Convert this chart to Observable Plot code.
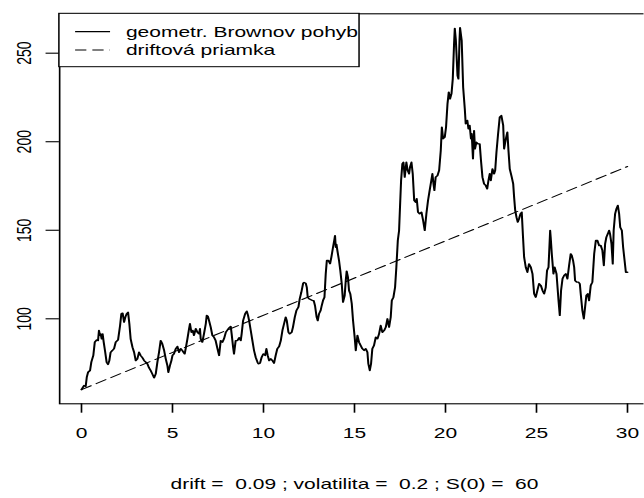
<!DOCTYPE html>
<html>
<head>
<meta charset="utf-8">
<script src="https://cdn.jsdelivr.net/npm/d3@7"></script>
<script src="https://cdn.jsdelivr.net/npm/@observablehq/plot@0.6"></script>
<style>
  html, body { margin: 0; padding: 0; background: #fff; overflow: hidden; }
  #chart { width: 644px; height: 498px; overflow: hidden; }
  /* the device is drawn wider than tall: stretch the whole plot horizontally */
  #chart svg { transform: scaleX(1.5); transform-origin: 0 0; display: block; }
</style>
</head>
<body>
<div id="chart"></div>
<script>
// simulation parameters shown in the caption
const s0 = 60;
const drift = 0.09;
const volatility = 0.2;

// simulated path of the geometric Brownian motion
const time = [
  0.00, 0.14, 0.23, 0.29, 0.36, 0.47, 0.54, 0.65, 0.73, 0.84, 0.91, 0.96, 1.02, 1.05, 1.11, 1.16, 1.22, 1.29, 1.38, 1.46,
  1.53, 1.60, 1.70, 1.79, 1.88, 2.01, 2.12, 2.19, 2.26, 2.34, 2.41, 2.48, 2.56, 2.63, 2.70, 2.80, 2.89, 2.98, 3.07, 3.16,
  3.25, 3.35, 3.44, 3.53, 3.62, 3.71, 3.80, 3.89, 3.99, 4.08, 4.17, 4.26, 4.35, 4.44, 4.54, 4.63, 4.72, 4.77, 4.86, 4.94,
  5.00, 5.08, 5.18, 5.27, 5.36, 5.45, 5.54, 5.60, 5.67, 5.74, 5.82, 5.91, 5.96, 6.04, 6.11, 6.18, 6.28, 6.37, 6.46, 6.51,
  6.55, 6.64, 6.73, 6.83, 6.88, 6.95, 7.03, 7.10, 7.19, 7.28, 7.37, 7.47, 7.56, 7.65, 7.74, 7.83, 7.93, 8.11, 8.20, 8.25,
  8.33, 8.38, 8.47, 8.57, 8.66, 8.75, 8.80, 8.88, 8.99, 9.08, 9.15, 9.21, 9.30, 9.39, 9.48, 9.57, 9.67, 9.72, 9.81, 9.90,
  9.99, 10.09, 10.16, 10.23, 10.31, 10.40, 10.49, 10.58, 10.67, 10.76, 10.86, 10.95, 11.04, 11.13, 11.22, 11.28, 11.37, 11.44, 11.55, 11.62,
  11.72, 11.81, 11.92, 11.99, 12.08, 12.18, 12.23, 12.32, 12.38, 12.43, 12.50, 12.69, 12.76, 12.83, 12.92, 12.98, 13.05, 13.14, 13.20, 13.27,
  13.35, 13.42, 13.48, 13.57, 13.66, 13.73, 13.82, 13.90, 13.93, 13.97, 14.01, 14.06, 14.15, 14.22, 14.30, 14.37, 14.46, 14.52, 14.57, 14.64,
  14.70, 14.77, 14.85, 14.92, 15.01, 15.07, 15.16, 15.25, 15.34, 15.43, 15.53, 15.62, 15.71, 15.76, 15.84, 15.91, 15.98, 16.07, 16.17, 16.26,
  16.35, 16.44, 16.53, 16.63, 16.72, 16.81, 16.90, 16.99, 17.05, 17.14, 17.23, 17.30, 17.38, 17.45, 17.50, 17.56, 17.63, 17.69, 17.76, 17.85,
  17.92, 18.00, 18.05, 18.13, 18.20, 18.28, 18.36, 18.42, 18.49, 18.58, 18.68, 18.77, 18.86, 18.95, 19.04, 19.13, 19.22, 19.28, 19.34, 19.39,
  19.46, 19.56, 19.65, 19.74, 19.80, 19.87, 19.96, 20.03, 20.11, 20.18, 20.25, 20.33, 20.40, 20.47, 20.51, 20.57, 20.66, 20.71, 20.77, 20.80,
  20.89, 20.97, 21.06, 21.11, 21.20, 21.26, 21.33, 21.40, 21.44, 21.51, 21.57, 21.62, 21.70, 21.79, 21.88, 21.95, 22.03, 22.12, 22.21, 22.29,
  22.36, 22.43, 22.49, 22.58, 22.67, 22.73, 22.80, 22.89, 22.98, 23.07, 23.17, 23.22, 23.31, 23.40, 23.46, 23.53, 23.64, 23.72, 23.77, 23.83,
  23.90, 23.97, 24.04, 24.12, 24.19, 24.26, 24.32, 24.41, 24.50, 24.59, 24.69, 24.78, 24.87, 24.96, 25.05, 25.14, 25.24, 25.33, 25.42, 25.51,
  25.58, 25.66, 25.75, 25.78, 25.84, 25.93, 26.00, 26.10, 26.21, 26.28, 26.35, 26.43, 26.52, 26.61, 26.70, 26.79, 26.88, 26.94, 27.01, 27.07,
  27.12, 27.21, 27.30, 27.38, 27.43, 27.52, 27.60, 27.67, 27.74, 27.82, 27.89, 27.98, 28.07, 28.17, 28.26, 28.35, 28.44, 28.53, 28.62, 28.70,
  28.77, 28.84, 28.92, 28.99, 29.04, 29.12, 29.19, 29.24, 29.32, 29.39, 29.47, 29.54, 29.60, 29.69, 29.76, 29.84, 29.91, 30.00
];
const price = [
  60.0, 62.3, 61.8, 67.0, 69.8, 70.8, 75.5, 79.3, 86.8, 88.1, 87.7, 93.4, 90.6, 91.5, 88.7, 91.5, 86.8, 82.1, 75.5, 74.2,
  76.4, 81.1, 82.1, 83.1, 86.8, 88.1, 96.2, 102.8, 103.2, 98.1, 100.9, 102.8, 103.7, 97.2, 88.7, 84.0, 81.1, 76.4, 77.4, 81.1,
  79.3, 78.0, 76.4, 75.5, 74.6, 72.3, 70.8, 68.9, 66.7, 68.9, 75.5, 81.1, 87.7, 85.9, 82.1, 77.4, 73.6, 69.8, 73.6, 76.4,
  79.3, 80.2, 83.1, 84.4, 81.1, 83.1, 82.1, 81.1, 80.2, 84.0, 88.7, 94.4, 97.2, 92.4, 93.4, 90.6, 94.4, 92.4, 91.5, 94.4,
  88.7, 86.8, 91.5, 97.2, 101.9, 101.3, 98.1, 95.3, 90.6, 89.6, 87.7, 83.1, 79.3, 87.7, 86.8, 88.7, 92.4, 94.9, 95.7, 91.5,
  84.0, 80.2, 87.7, 87.7, 89.3, 87.7, 91.5, 99.0, 102.8, 104.3, 101.9, 99.0, 93.4, 87.7, 82.1, 78.3, 75.5, 74.6, 74.9, 78.3,
  80.2, 79.3, 83.1, 79.3, 76.4, 77.4, 76.4, 74.9, 79.3, 83.1, 84.4, 87.7, 93.4, 97.2, 100.9, 99.0, 92.4, 91.5, 92.4, 95.3,
  100.9, 104.7, 106.6, 111.3, 115.0, 120.1, 120.5, 120.1, 117.8, 112.2, 111.3, 110.3, 110.3, 107.5, 100.9, 99.0, 102.8, 104.7, 107.5, 110.3,
  112.2, 125.4, 132.9, 132.9, 131.1, 134.8, 140.4, 145.0, 147.0, 140.4, 142.0, 138.5, 132.9, 127.3, 119.7, 109.4, 113.1, 121.6, 126.9, 123.5,
  116.0, 114.1, 108.5, 99.0, 89.6, 82.1, 90.6, 86.8, 84.9, 83.1, 82.1, 83.1, 81.1, 74.6, 70.8, 74.6, 83.1, 84.9, 89.6, 88.7,
  91.5, 96.2, 92.4, 93.4, 95.3, 100.0, 95.3, 100.9, 110.3, 112.2, 117.8, 129.1, 144.2, 149.9, 163.0, 178.1, 187.5, 188.4, 180.0, 188.4,
  183.8, 181.9, 185.6, 188.4, 181.9, 166.8, 165.8, 167.8, 160.2, 159.3, 160.2, 155.5, 149.9, 159.3, 166.8, 172.5, 178.1, 181.9, 176.2, 172.5,
  180.0, 180.9, 183.8, 195.0, 208.2, 201.7, 202.6, 208.2, 221.4, 228.0, 224.2, 227.1, 235.5, 255.0, 264.0, 257.2, 237.4, 235.5, 257.2, 264.4,
  257.2, 230.8, 218.6, 210.1, 212.0, 207.3, 209.2, 201.7, 204.5, 190.4, 206.3, 196.0, 199.7, 198.8, 198.8, 189.4, 180.0, 176.2, 175.3, 173.4,
  178.1, 181.9, 178.1, 184.7, 181.9, 183.8, 194.1, 204.5, 213.9, 214.8, 209.2, 196.0, 201.3, 205.4, 195.0, 184.7, 180.0, 176.2, 168.7, 161.2,
  157.4, 154.6, 156.5, 159.3, 160.2, 146.1, 134.8, 129.1, 126.3, 131.0, 129.1, 125.4, 114.1, 112.2, 116.0, 119.8, 118.8, 116.0, 114.1, 117.8,
  127.3, 129.1, 149.9, 146.1, 136.7, 125.4, 129.1, 125.4, 110.3, 101.9, 116.0, 122.6, 124.5, 125.4, 122.6, 130.1, 136.7, 135.7, 132.9, 129.1,
  121.6, 120.7, 120.7, 119.8, 114.1, 104.7, 100.0, 106.6, 113.2, 114.1, 110.3, 118.8, 120.7, 136.7, 144.2, 144.2, 141.4, 141.4, 138.6, 130.1,
  142.3, 146.1, 148.0, 149.9, 148.0, 142.3, 131.0, 149.9, 159.3, 162.1, 164.0, 159.3, 151.7, 149.9, 140.4, 132.9, 126.3, 126.3
];

// straight drift line from S(0) to its end value at t = 30
const driftTime = [0, 30];
const driftPrice = [s0, 186];

const xTicks = [0, 5, 10, 15, 20, 25, 30];
const yTicks = [100, 150, 200, 250];
const legendLabels = ["geometr. Brownov pohyb", "driftová priamka"];
const caption = `drift =  ${drift} ; volatilita =  ${volatility} ; S(0) =  ${s0}`;

// table for the marks
const path = time.map((t, i) => ({t, s: price[i]}));
const driftLine = driftTime.map((t, i) => ({t, s: driftPrice[i]}));

const SX = 1.5;              // horizontal stretch applied in CSS
const H = 498;
const W = 644 / SX;
const plotLeft = 58.9 / SX, plotRight = 648.6 / SX;
const plotTop = 13.3, plotBottom = 403.3;
const font = "'Liberation Sans', Arial, Helvetica, sans-serif";

const svg = Plot.plot({
  width: W,
  height: H,
  marginLeft: plotLeft,
  marginRight: W - plotRight,
  marginTop: plotTop,
  marginBottom: H - plotBottom,
  style: {fontFamily: font, fontSize: "14px", background: "white", color: "black"},
  x: {domain: [-1.2, 31.2]},
  y: {domain: [52.0, 272.25]},
  marks: [
    Plot.line(driftLine, {x: "t", y: "s", stroke: "black", strokeWidth: 1.0, strokeDasharray: "7.5,4"}),
    Plot.line(path, {x: "t", y: "s", stroke: "black", strokeWidth: 1.35, strokeLinejoin: "round"}),
    Plot.frame({stroke: "black", strokeWidth: 1.1}),
    Plot.axisX({ticks: xTicks, tickSize: 9.4, tickPadding: 15, tickFormat: d => String(d), label: null, strokeWidth: 1.1}),
    Plot.axisY({ticks: yTicks, tickSize: 8.9, tickPadding: 10, tickRotate: -90, tickFormat: d => String(d), label: null, strokeWidth: 1.1}),
    Plot.text([caption], {text: d => d, frameAnchor: "bottom", dy: 85, fontSize: 14, fill: "black"})
  ]
});

// legend in the top-left corner of the plotting region
const lg = d3.select(svg).append("g")
  .attr("font-family", font)
  .attr("font-size", 14)
  .attr("text-anchor", "start");
lg.append("rect")
  .attr("x", plotLeft).attr("y", plotTop)
  .attr("width", 200.1).attr("height", 53.4)
  .attr("fill", "white").attr("stroke", "black").attr("stroke-width", 1.0);
const rows = [
  {label: legendLabels[0], dash: null, y: plotTop + 18.4},
  {label: legendLabels[1], dash: "7.5,4", y: plotTop + 36.7}
];
for (const r of rows) {
  lg.append("line")
    .attr("x1", plotLeft + 10.8).attr("x2", plotLeft + 34.1)
    .attr("y1", r.y).attr("y2", r.y)
    .attr("stroke", "black")
    .attr("stroke-width", r.dash ? 1.0 : 1.2)
    .attr("stroke-dasharray", r.dash);
  lg.append("text")
    .attr("x", plotLeft + 44.7).attr("y", r.y + 5)
    .attr("fill", "black")
    .text(r.label);
}

document.getElementById("chart").appendChild(svg);
</script>
</body>
</html>
